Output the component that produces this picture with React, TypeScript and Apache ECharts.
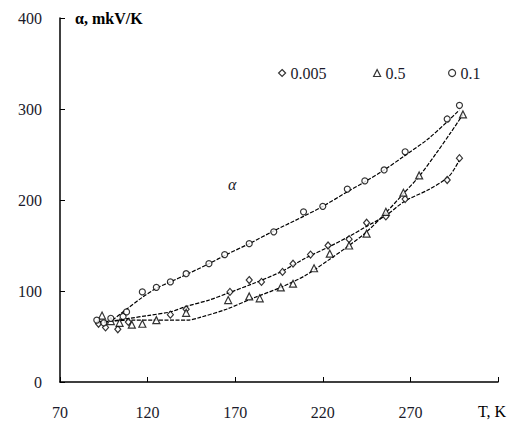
import React, { useEffect, useRef } from "react";
import * as echarts from "echarts";

// Markers: [T, alpha]
const t005 = [92, 96, 103, 109, 133, 142, 167, 178, 185, 197, 203, 213, 223, 235, 245, 256, 267, 291, 298];
const a005 = [64, 60, 58, 66, 74, 80, 99, 112, 110, 121, 130, 140, 150, 157, 175, 182, 201, 222, 246];

const t05 = [94, 99, 104, 111, 117, 125, 142, 166, 178, 184, 196, 203, 215, 224, 235, 245, 256, 266, 275, 300];
const a05 = [73, 67, 65, 63, 64, 68, 76, 90, 94, 92, 104, 108, 125, 141, 150, 163, 187, 208, 227, 294];

const t01 = [91, 95, 99, 106, 108, 117, 125, 133, 142, 155, 164, 178, 192, 209, 220, 234, 244, 255, 267, 291, 298];
const a01 = [68, 65, 70, 72, 77, 99, 104, 110, 119, 130, 140, 152, 165, 187, 193, 212, 221, 233, 253, 289, 304];

// Trend lines
const fitT01 = [100, 108, 117, 125, 133, 142, 155, 165, 178, 192, 209, 220, 234, 244, 255, 267, 280, 291, 298];
const fitA01 = [68, 80, 93, 103, 110, 118, 130, 140, 152, 166, 182, 193, 209, 220, 233, 249, 267, 286, 299];

const fitT005 = [92, 100, 110, 120, 133, 142, 155, 165, 180, 196, 210, 224, 235, 245, 256, 267, 280, 292, 298];
const fitA005 = [64, 67, 70, 73, 77, 83, 90, 97, 108, 121, 136, 149, 160, 171, 183, 199, 211, 226, 244];

const fitT05 = [92, 100, 111, 125, 143, 150, 165, 180, 196, 210, 224, 235, 245, 256, 266, 275, 285, 293, 300];
const fitA05 = [66, 67, 68, 68, 68, 71, 80, 92, 104, 117, 135, 150, 165, 186, 207, 226, 252, 274, 294];

const xTicks = [70, 120, 170, 220, 270];
const seriesNames = ["0.005", "0.5", "0.1"];

const zip = (a: number[], b: number[]) => a.map((v, i) => [v, b[i]]);

const FONT = "'Liberation Serif', 'Times New Roman', serif";

export default function App() {
  const ref = useRef<HTMLDivElement>(null);
  useEffect(() => {
    if (!ref.current) return;
    const chart = echarts.init(ref.current, null, { renderer: "svg" });
    const markerStyle = { color: "#fff", borderColor: "#000", borderWidth: 1.2 };
    const fitLine = (data: number[][]) => ({
      type: "line",
      data,
      showSymbol: false,
      smooth: 0.3,
      silent: true,
      lineStyle: { color: "#000", width: 1.2, type: [4, 1.5] },
      z: 2,
    });
    const legendBase = {
      top: 60,
      itemWidth: 7,
      itemHeight: 7,
      itemGap: 5,
      textStyle: { fontFamily: FONT, fontSize: 16, color: "#1a1a2a" },
      itemStyle: markerStyle,
    };
    chart.setOption({
      animation: false,
      backgroundColor: "#fff",
      grid: { left: 60, right: 27, top: 18, bottom: 46 },
      xAxis: {
        type: "value",
        min: 70,
        max: 320,
        interval: 50,
        splitLine: { show: false },
        axisLine: { lineStyle: { color: "#000", width: 1.5 } },
        axisTick: { inside: true, length: 5, lineStyle: { color: "#000" } },
        axisLabel: {
          margin: 22,
          fontFamily: FONT,
          fontSize: 16,
          color: "#1a1a2a",
          formatter: (v: number) => (xTicks.includes(v) ? String(v) : ""),
        },
      },
      yAxis: {
        type: "value",
        min: 0,
        max: 400,
        interval: 100,
        splitLine: { show: false },
        axisLine: { show: true, lineStyle: { color: "#000", width: 1.5 } },
        axisTick: { show: true, inside: true, length: 5, lineStyle: { color: "#000" } },
        axisLabel: { margin: 18, fontFamily: FONT, fontSize: 16, color: "#1a1a2a" },
      },
      legend: [
        { ...legendBase, left: 273, data: [{ name: seriesNames[0], icon: "diamond" }] },
        { ...legendBase, left: 368, data: [{ name: seriesNames[1], icon: "triangle" }] },
        { ...legendBase, left: 443, data: [{ name: seriesNames[2], icon: "circle" }] },
      ],
      graphic: [
        {
          type: "text",
          left: 75,
          top: 10,
          style: { text: "α, mkV/K", font: `bold 16px ${FONT}`, fill: "#000" },
        },
        {
          type: "text",
          left: 478,
          top: 403,
          style: { text: "T, K", font: `16px ${FONT}`, fill: "#000" },
        },
        {
          type: "text",
          left: 228,
          top: 176,
          style: { text: "α", font: `italic 16px ${FONT}`, fill: "#1a1a2a" },
        },
      ],
      series: [
        fitLine(zip(fitT005, fitA005)),
        fitLine(zip(fitT05, fitA05)),
        fitLine(zip(fitT01, fitA01)),
        {
          name: seriesNames[0],
          type: "scatter",
          symbol: "diamond",
          symbolSize: [6, 7],
          data: zip(t005, a005),
          itemStyle: markerStyle,
          z: 3,
        },
        {
          name: seriesNames[1],
          type: "scatter",
          symbol: "triangle",
          symbolSize: [7, 7],
          data: zip(t05, a05),
          itemStyle: markerStyle,
          z: 3,
        },
        {
          name: seriesNames[2],
          type: "scatter",
          symbol: "circle",
          symbolSize: 6,
          data: zip(t01, a01),
          itemStyle: markerStyle,
          z: 3,
        },
      ],
    });
    return () => chart.dispose();
  }, []);
  return (
    <div
      ref={ref}
      style={{ position: "fixed", left: 0, top: 0, width: 525, height: 428 }}
    />
  );
}
